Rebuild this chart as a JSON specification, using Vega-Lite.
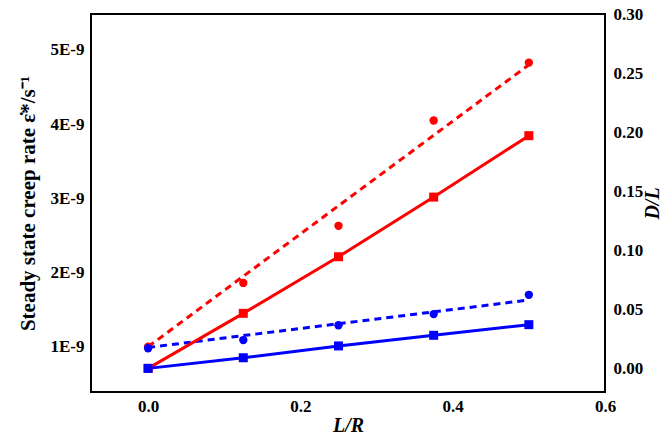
{
  "$schema": "https://vega.github.io/schema/vega-lite/v6.json",
  "width": 514,
  "height": 378,
  "autosize": "none",
  "padding": {"left": 91, "top": 14, "right": 65, "bottom": 49},
  "background": "white",
  "datasets": {
    "points": [
      {"LR": 0, "series": "Curved in-plane middle lines", "rate": 1.0e-9, "DL": 0.0},
      {"LR": 0.125, "series": "Curved in-plane middle lines", "rate": 1.86e-9, "DL": 0.0466},
      {"LR": 0.25, "series": "Curved in-plane middle lines", "rate": 2.63e-9, "DL": 0.0945},
      {"LR": 0.375, "series": "Curved in-plane middle lines", "rate": 4.05e-9, "DL": 0.145},
      {"LR": 0.5, "series": "Curved in-plane middle lines", "rate": 4.83e-9, "DL": 0.197},
      {"LR": 0, "series": "Curved cell edges", "rate": 0.98e-9, "DL": 0.0},
      {"LR": 0.125, "series": "Curved cell edges", "rate": 1.09e-9, "DL": 0.009},
      {"LR": 0.25, "series": "Curved cell edges", "rate": 1.29e-9, "DL": 0.019},
      {"LR": 0.375, "series": "Curved cell edges", "rate": 1.44e-9, "DL": 0.028},
      {"LR": 0.5, "series": "Curved cell edges", "rate": 1.70e-9, "DL": 0.037}
    ],
    "fits": [
      {"LR": 0, "series": "Curved in-plane middle lines", "rate": 1.0e-9},
      {"LR": 0.5, "series": "Curved in-plane middle lines", "rate": 4.80e-9},
      {"LR": 0, "series": "Curved cell edges", "rate": 0.99e-9},
      {"LR": 0.5, "series": "Curved cell edges", "rate": 1.63e-9}
    ]
  },
  "config": {
    "font": "Liberation Serif",
    "view": {"stroke": "black", "strokeWidth": 2},
    "legend": {
      "titleFont": "Liberation Serif",
      "titleFontStyle": "italic",
      "titleFontWeight": "normal",
      "titleFontSize": 21,
      "titleColor": "black",
      "titlePadding": 1,
      "labelFont": "Liberation Serif",
      "labelFontWeight": "bold",
      "labelFontSize": 18,
      "labelColor": "black",
      "labelLimit": 400,
      "rowPadding": 4,
      "symbolType": "M0,-1.5h7v3h-7z M12,-1.5h7v3h-7z M24,-1.5h7v3h-7z M36,-1.5h7v3h-7z M67,-1.5h45v3h-45z M84.5,-4.5h9v9h-9z",
      "symbolSize": 4,
      "symbolStrokeWidth": 0,
      "labelOffset": 134
    },
    "axis": {
      "domain": false,
      "ticks": false,
      "tickSize": 0,
      "grid": true,
      "gridColor": "black",
      "gridWidth": 2,
      "gridOpacity": 1,
      "labelColor": "black",
      "titleColor": "black",
      "labelFont": "Liberation Serif",
      "titleFont": "Liberation Serif",
      "labelFontSize": 17,
      "labelFontWeight": "bold",
      "titleFontSize": 20,
      "titleFontWeight": "bold",
      "labelFlush": false,
      "labelOverlap": false
    }
  },
  "layer": [
    {
      "data": {"name": "fits"},
      "mark": {"type": "line", "strokeWidth": 3, "strokeDash": [7, 5]},
      "encoding": {
        "x": {"field": "LR", "type": "quantitative", "scale": {"domain": [-0.075, 0.6], "nice": false, "zero": false}, "axis": null},
        "y": {"field": "rate", "type": "quantitative", "scale": {"domain": [3.9e-10, 5.485e-9], "nice": false, "zero": false}, "axis": null},
        "stroke": {"field": "series", "type": "nominal",
          "scale": {"domain": ["Curved cell edges", "Curved in-plane middle lines"], "range": ["#0000ff", "#ff0000"]}, "legend": null}
      }
    },
    {
      "data": {"name": "points"},
      "mark": {"type": "point", "shape": "circle", "filled": true, "size": 70, "opacity": 1},
      "encoding": {
        "x": {"field": "LR", "type": "quantitative", "scale": {"domain": [-0.075, 0.6], "nice": false, "zero": false},
          "axis": {"orient": "bottom", "values": [0, 0.1, 0.2, 0.3, 0.4, 0.5, 0.6],
            "labelExpr": "round(datum.value*10)%2==0 ? format(datum.value,'.1f') : ''",
            "gridDash": {"condition": {"test": "round(datum.value*10)%2==0", "value": [8, 2000]}, "value": [5, 2000]},
            "labelPadding": 6, "title": "L/R", "titleFontStyle": "italic", "titlePadding": 1}},
        "y": {"field": "rate", "type": "quantitative", "scale": {"domain": [3.9e-10, 5.485e-9], "nice": false, "zero": false},
          "axis": {"orient": "left",
            "values": [5e-10, 1e-9, 1.5e-9, 2e-9, 2.5e-9, 3e-9, 3.5e-9, 4e-9, 4.5e-9, 5e-9],
            "labelExpr": "round(datum.value*2e9)%2==0 ? format(round(datum.value*1e9),'d')+'E-9' : ''",
            "gridDash": {"condition": {"test": "round(datum.value*2e9)%2==0", "value": [8, 2000]}, "value": [5, 2000]},
            "labelPadding": 7, "title": "Steady state creep rate ε̇*/s⁻¹", "titleFontSize": 21, "titlePadding": 12}},
        "fill": {"field": "series", "type": "nominal",
          "scale": {"domain": ["Curved cell edges", "Curved in-plane middle lines"], "range": ["#0000ff", "#ff0000"]}, "legend": null}
      }
    },
    {
      "data": {"name": "points"},
      "mark": {"type": "line", "strokeWidth": 3},
      "encoding": {
        "x": {"field": "LR", "type": "quantitative", "scale": {"domain": [-0.075, 0.6], "nice": false, "zero": false}, "axis": null},
        "y": {"field": "DL", "type": "quantitative", "scale": {"domain": [-0.02, 0.30], "nice": false, "zero": false}, "axis": null},
        "stroke": {"field": "series", "type": "nominal",
          "scale": {"domain": ["Curved cell edges", "Curved in-plane middle lines"], "range": ["#0000ff", "#ff0000"]}, "legend": null}
      }
    },
    {
      "data": {"name": "points"},
      "mark": {"type": "point", "shape": "square", "filled": true, "size": 81, "opacity": 1},
      "encoding": {
        "x": {"field": "LR", "type": "quantitative", "scale": {"domain": [-0.075, 0.6], "nice": false, "zero": false},
          "axis": {"orient": "top", "values": [0, 0.1, 0.2, 0.3, 0.4, 0.5, 0.6], "labels": false, "title": null,
            "gridDash": {"condition": {"test": "round(datum.value*10)%2==0", "value": [8, 2000]}, "value": [5, 2000]}}},
        "y": {"field": "DL", "type": "quantitative", "scale": {"domain": [-0.02, 0.30], "nice": false, "zero": false},
          "axis": {"orient": "right", "values": [0, 0.05, 0.1, 0.15, 0.2, 0.25, 0.3], "format": ".2f",
            "gridDash": [8, 2000], "labelPadding": 8, "title": "D/L", "titleFontStyle": "italic",
            "titleAngle": 270, "titleBaseline": "top", "titlePadding": 0}},
        "color": {"field": "series", "type": "nominal",
          "scale": {"domain": ["Curved cell edges", "Curved in-plane middle lines"], "range": ["#0000ff", "#ff0000"]},
          "legend": {
            "orient": "top-left",
            "offset": 14,
            "title": "\u00a0\u00a0\u00a0ε̇*\u00a0\u00a0\u00a0\u00a0\u00a0\u00a0D\u2009/\u2009L"
          }}
      }
    }
  ],
  "resolve": {"scale": {"y": "independent"}, "axis": {"x": "independent"}}
}
